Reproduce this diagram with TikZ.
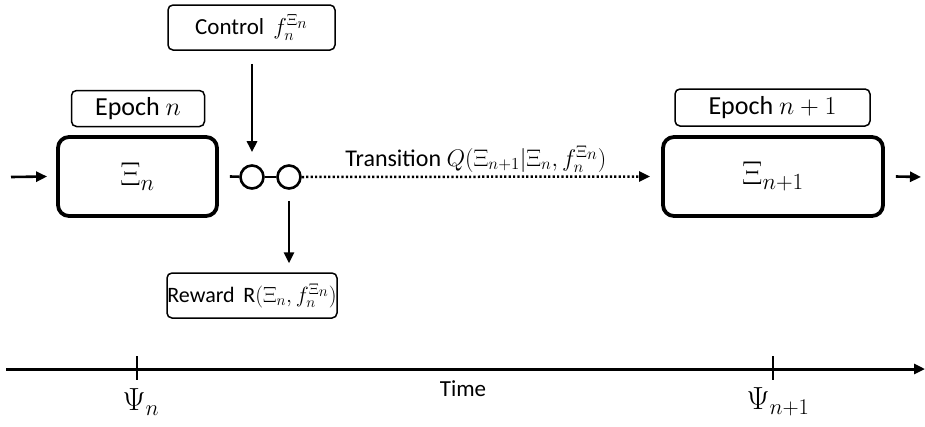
\RequirePackage{fix-cm}
\documentclass[tikz,border=0pt]{standalone}
\usepackage{fontspec}
\setmainfont{Carlito}
\usetikzlibrary{arrows.meta,calc}
\begin{document}
\begin{tikzpicture}[x=1pt,y=-1pt,
 lbl/.style={draw,rounded corners=5pt,line width=1.5pt,inner sep=0pt},
 state/.style={draw,rounded corners=11pt,line width=3.8pt,inner sep=0pt},
 tip/.style={-{Triangle[length=11pt,width=10pt]}},
 arr/.style={line width=2.6pt,tip},
 ring/.style={draw,circle,line width=2.6pt,minimum size=23pt,inner sep=0pt},
 link/.style={line width=2.6pt}]
\useasboundingbox (0,0) rectangle (925,426);
% boxes
\node[lbl,minimum width=133pt,minimum height=36pt] (ep1) at (138,108.5) {\fontsize{26}{30}\selectfont Epoch $n$};
\node[state,minimum width=159pt,minimum height=79pt] (xi1) at (137.5,176.5) {\fontsize{33}{38}\selectfont\raisebox{-9pt}{$\Xi_n$}};
\node[lbl,minimum width=195pt,minimum height=37pt] (ep2) at (772.5,107.5) {\fontsize{26}{30}\selectfont Epoch $n+1$};
\node[state,minimum width=220pt,minimum height=79pt] (xi2) at (773,176.5) {\fontsize{33}{38}\selectfont\raisebox{-2pt}{$\Xi_{n+1}$}};
\node[lbl,minimum width=167pt,minimum height=45pt] (ctrl) at (251.5,27.5) {\fontsize{23}{27}\selectfont Control\, $f_n^{\Xi_{\scriptstyle n}}$};
\node[lbl,minimum width=170pt,minimum height=45pt] (rew) at (252,295.5) {\fontsize{22}{26}\selectfont Reward\, $\mathrm{R}(\Xi_n, f_n^{\Xi_{\scriptstyle n}})$};
\node[ring] (c1) at (252,177) {};
\node[ring] (c2) at (289,177) {};
% connectors
\coordinate (inL) at (11,177);
\coordinate (outR) at (921,177);
\draw[arr] (inL) -- ([xshift=-9pt]xi1.west);
\draw[link] ([xshift=11pt]xi1.east) -- (c1);
\draw[link] (c1) -- (c2);
\draw[arr] ([xshift=11pt]xi2.east) -- (outR);
\draw[arr] ($(c1|-ctrl.south)+(0,13)$) -- ([yshift=12pt]c1.north);
\draw[arr] ([yshift=-11pt]c2.south) -- ($(c2|-rew.north)+(0,-9)$);
\draw[line width=2.5pt,dash pattern=on 2.2pt off 2.2pt,tip] (c2.east) -- node[above=0pt,font=\fontsize{24}{28}\selectfont] (tr) {Transition $Q(\Xi_{n+1}|\Xi_n,f_n^{\Xi_{\scriptstyle n}})$} ([xshift=-11pt]xi2.west);
% time axis
\coordinate (t0) at (6,369);
\coordinate (t1) at (925,369);
\draw[line width=3pt,tip] (t0) -- (t1);
\coordinate (k1) at (137,369);
\coordinate (k2) at (773,369);
\draw[line width=2.2pt] ([yshift=13pt]k1) -- ([yshift=-11pt]k1);
\draw[line width=2.2pt] ([yshift=13pt]k2) -- ([yshift=-11pt]k2);
\node[font=\fontsize{32}{36}\selectfont] (psi1) at (141,402) {$\Psi_n$};
\node[font=\fontsize{32}{36}\selectfont] (psi2) at (778,402) {$\Psi_{n+1}$};
\node[font=\fontsize{23}{27}\selectfont] (time) at (463,389) {Time};
\end{tikzpicture}
\end{document}
